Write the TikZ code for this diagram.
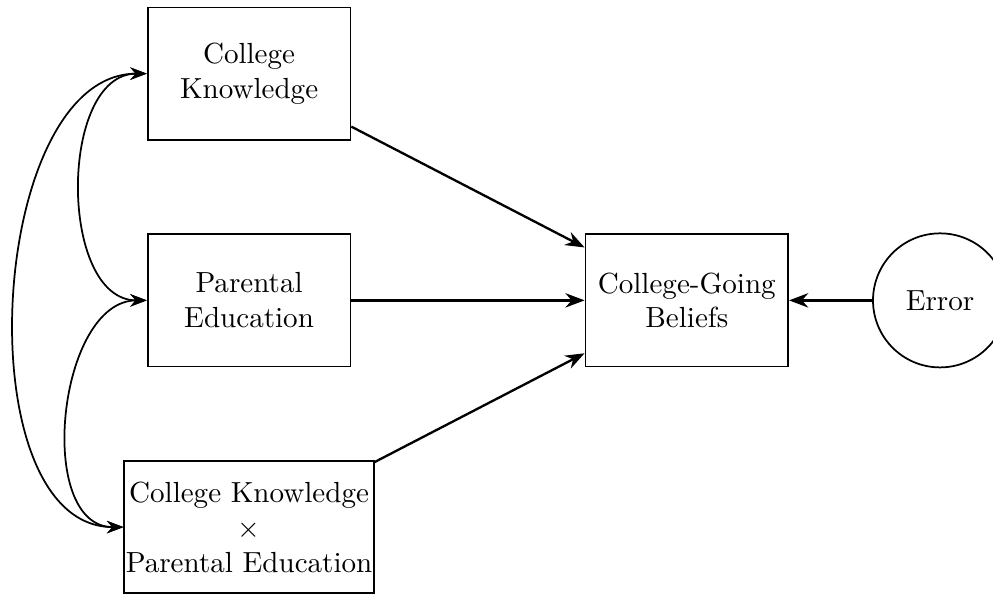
\documentclass[tikz,border=0pt]{standalone}
\usetikzlibrary{arrows.meta}

\begin{document}
\begin{tikzpicture}[>=Stealth, node distance=27.4mm, block/.style={rectangle, draw, semithick, inner sep=1pt, minimum height=16mm, minimum width=24.5mm, align=center}, errnode/.style={circle, draw, semithick, minimum size=16.2mm}]
  \useasboundingbox (0,0) rectangle (12,-7.2);
  \node[block] (know) at (3.01,-0.89) {College\\Knowledge};
  \node[block,below of=know] (parent) {Parental\\Education};
  \node[block,below of=parent, inner sep=0.5pt] (inter) {College Knowledge\\$\times$\\Parental Education};
  \node[block,right of=parent, node distance=52.9mm] (beliefs) {College-Going\\Beliefs};
  \node[errnode,right of=beliefs, node distance=30.6mm] (error) {Error};

  \draw[->, thick] (know) -- (beliefs);
  \draw[->, thick] (parent) -- (beliefs);
  \draw[->, thick] (inter) -- (beliefs);
  \draw[->, thick] (error) -- (beliefs);

  % correlations
  \draw[<->, semithick] (know.west) to[out=180, in=180] (parent.west);
  \draw[<->, semithick] (parent.west) to[out=180, in=180] (inter.west);
  \draw[<->, semithick] (know.west) to[out=180, in=180, looseness=0.9] (inter.west);

\end{tikzpicture}
\end{document}
